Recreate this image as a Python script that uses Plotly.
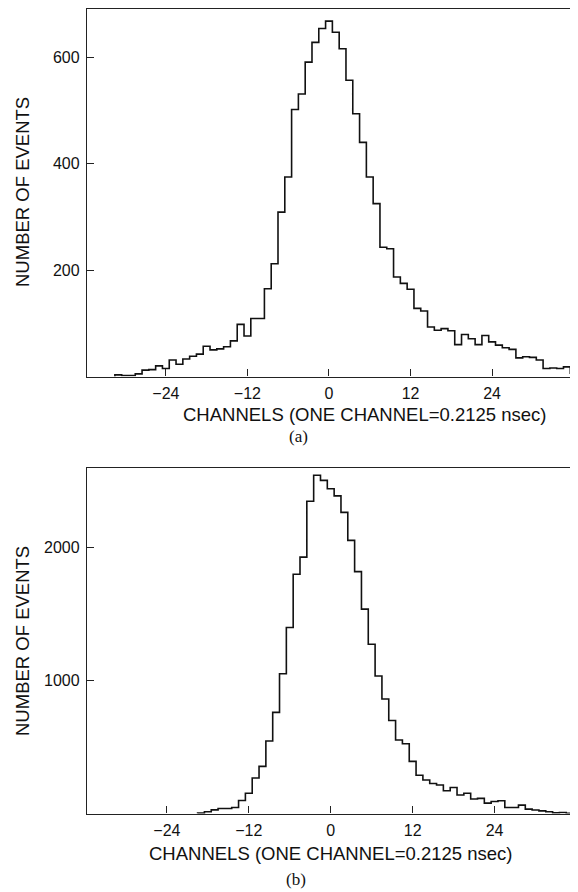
import numpy as np
import plotly.graph_objects as go

# ---------------- data ----------------
channels_a = list(range(-31, 37))
counts_a = [3, 2, 2, 5, 12, 13, 20, 15, 31, 23, 33, 38, 42, 57, 50, 52, 56, 67, 98, 76,
            109, 109, 165, 212, 309, 375, 502, 531, 591, 628, 654,
            668,
            647, 616, 557, 494, 440, 375, 325, 243, 240, 187, 175, 164, 128, 123, 93, 87,
            90, 86, 60, 79, 71, 60, 77, 65, 59, 54, 51, 35, 37, 36, 31, 15, 16, 15, 18, 6]

channels_b = list(range(-19, 37))
counts_b = [3, 13, 27, 38, 38, 45, 98, 152, 267, 355, 546, 761, 1052, 1400, 1800, 1929,
            2350, 2545, 2507, 2444, 2390, 2266, 2055, 1820, 1538, 1274, 1035, 862, 700,
            553, 525, 392, 288, 252, 226, 215, 171, 196, 139, 152, 109, 114, 78, 90, 96,
            45, 45, 63, 33, 26, 20, 13, 5, 8, 2, 0]

x_ticks = [-24, -12, 0, 12, 24]
y_ticks_a = [200, 400, 600]
y_ticks_b = [1000, 2000]

x_title = "CHANNELS (ONE CHANNEL=0.2125 nsec)"
y_title = "NUMBER OF EVENTS"


def step_outline(ch, cnt):
    ch = np.asarray(ch, dtype=float)
    edges = ch - 0.5
    right = ch[-1] + 0.5
    xs = [edges[0]] + list(edges) + [right, right]
    ys = [0] + list(cnt) + [cnt[-1], 0]
    return xs, ys


# the page body has an 8px margin, so the figure is drawn 8px in from the window corner
OFF = 8
W, H = 578 - OFF, 892 - OFF


def fx(x):
    return (x - OFF) / W


def fy(y):
    return 1 - (y - OFF) / H


fig = go.Figure()

xa, ya = step_outline(channels_a, counts_a)
fig.add_trace(go.Scatter(x=xa, y=ya, mode="lines", line=dict(shape="hv", color="#111", width=1.6),
                         xaxis="x", yaxis="y", showlegend=False, hoverinfo="skip"))
xb, yb = step_outline(channels_b, counts_b)
fig.add_trace(go.Scatter(x=xb, y=yb, mode="lines", line=dict(shape="hv", color="#111", width=1.6),
                         xaxis="x2", yaxis="y2", showlegend=False, hoverinfo="skip"))

tickfont = dict(family="Liberation Sans, Arial, sans-serif", size=16, color="#111")
common_x = dict(tickvals=x_ticks, ticks="inside", ticklen=7, tickwidth=1.2, tickcolor="#222",
                showline=True, mirror=True, linecolor="#222", linewidth=1.3,
                showgrid=False, zeroline=False, tickfont=tickfont, ticklabelstandoff=2)
common_y = dict(ticks="inside", ticklen=7, tickwidth=1.2, tickcolor="#222",
                showline=True, mirror=True, linecolor="#222", linewidth=1.3,
                showgrid=False, zeroline=False, tickfont=tickfont, ticklabelstandoff=3)

# top panel: frame top sits at the figure's top edge; keep the reference's scale (0.532 px/event)
top_frame_y, top_base_y = 9, 376.5
top_ymax = (top_base_y - top_frame_y) / 0.532

fig.update_layout(
    width=W, height=H,
    margin=dict(l=0, r=0, t=0, b=0),
    paper_bgcolor="white", plot_bgcolor="white",
    xaxis=dict(domain=[fx(87), fx(573)], anchor="y", range=[-35.6, 35.9], **common_x),
    yaxis=dict(domain=[fy(top_base_y), fy(top_frame_y)], anchor="x", range=[0, top_ymax],
               tickvals=y_ticks_a, **common_y),
    xaxis2=dict(domain=[fx(87), fx(576.5)], anchor="y2", range=[-35.7, 36.0], **common_x),
    yaxis2=dict(domain=[fy(813.5), fy(468)], anchor="x2", range=[0, 2600],
                tickvals=y_ticks_b, **common_y),
)

title_font = dict(family="Liberation Sans, Arial, sans-serif", size=18.5, color="#111")
label_font = dict(family="Liberation Serif, Times New Roman, serif", size=17, color="#111")

annots = [
    (y_title, 22, 192, title_font, -90),
    (y_title, 22, 641, title_font, -90),
    (x_title, 365, 415, title_font, 0),
    (x_title, 330, 853, title_font, 0),
    ("(a)", 298, 436, label_font, 0),
    ("(b)", 296, 879, label_font, 0),
]
for text, x, y, font, ang in annots:
    fig.add_annotation(text=text, x=fx(x), y=fy(y), xref="paper", yref="paper",
                       xanchor="center", yanchor="middle", showarrow=False,
                       font=font, textangle=ang)

fig.write_html("out.html")
